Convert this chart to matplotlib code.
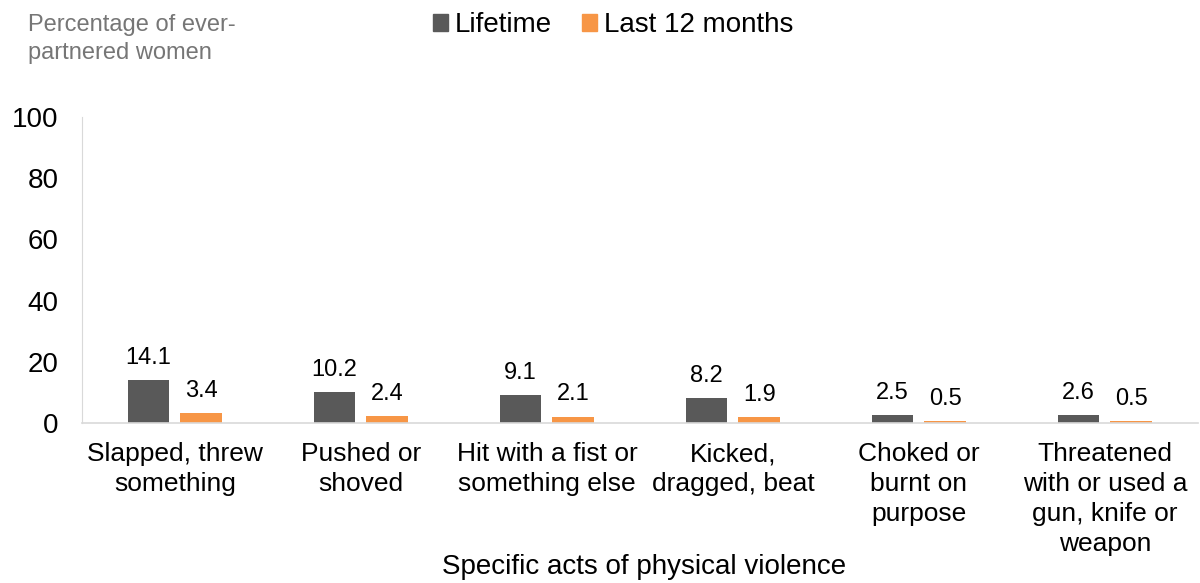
import matplotlib
matplotlib.use("Agg")
import matplotlib.pyplot as plt
from matplotlib.patches import Patch
import numpy as np

plt.rcParams['font.family'] = ['Liberation Sans', 'DejaVu Sans']

categories = ["Slapped, threw\nsomething", "Pushed or\nshoved", "Hit with a fist or\nsomething else",
              "Kicked,\ndragged, beat", "Choked or\nburnt on\npurpose",
              "Threatened\nwith or used a\ngun, knife or\nweapon"]
lifetime = [14.1, 10.2, 9.1, 8.2, 2.5, 2.6]
last12 = [3.4, 2.4, 2.1, 1.9, 0.5, 0.5]
series_names = ["Lifetime", "Last 12 months"]
yticks = [0, 20, 40, 60, 80, 100]

c_life = "#595959"
c_last = "#F79646"

fig = plt.figure(figsize=(12, 5.83), dpi=100)
ax = fig.add_axes([0.0683, 0.2744, 0.93, 0.5249])

x = np.arange(len(categories))
w = 0.225
off = 0.142
b1 = ax.bar(x - off, lifetime, w, color=c_life)
b2 = ax.bar(x + off, last12, w, color=c_last)

for bars, vals in ((b1, lifetime), (b2, last12)):
    for r, v in zip(bars, vals):
        ax.annotate(f"{v:.1f}", (r.get_x() + r.get_width() / 2, v), xytext=(0, 8),
                    textcoords="offset points", ha="center", va="bottom", fontsize=17, color="black")

ax.set_xlim(-0.5, len(categories) - 0.5)
ax.set_ylim(0, 100)
ax.set_yticks(yticks)
ax.set_yticklabels([str(t) for t in yticks], fontsize=20)
ax.set_xticks(x)
ax.set_xticklabels(categories, fontsize=19, linespacing=1.3)
ax.tick_params(axis='y', length=0, pad=17)
ax.tick_params(axis='x', length=0, pad=14)
for s in ("top", "right"):
    ax.spines[s].set_visible(False)
ax.spines["left"].set_color("#D9D9D9")
ax.spines["bottom"].set_color("#D9D9D9")
ax.spines["bottom"].set_linewidth(1.2)

fig.text(0.5366, 1 - 574 / 583, "Specific acts of physical violence", fontsize=20,
         ha="center", va="baseline")

fig.text(0.023, 0.976, "Percentage of ever-\npartnered women", fontsize=17, color="#767676",
         ha="left", va="top", linespacing=1.33)

handles = [Patch(color=c_life), Patch(color=c_last)]
fig.legend(handles, series_names, loc="center", bbox_to_anchor=(0.511, 0.957), ncol=2,
           frameon=False, fontsize=20, handlelength=0.54, handleheight=0.54,
           handletextpad=0.25, columnspacing=1.1)

fig.savefig("out.png", dpi=100)
